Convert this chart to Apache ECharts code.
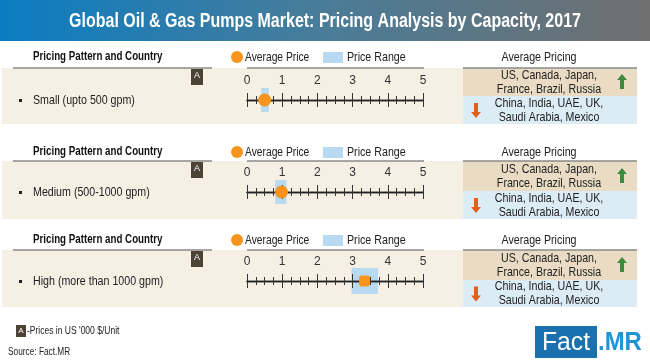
<!DOCTYPE html>
<html><head><meta charset="utf-8">
<script src="https://cdn.jsdelivr.net/npm/echarts@6/dist/echarts.min.js"></script>
<style>html,body{margin:0;padding:0;background:#fff}#c{width:650px;height:361px}</style>
</head><body><div id="c"></div><script>
// ---- data ----
const title = 'Global Oil & Gas Pumps Market: Pricing Analysis by Capacity, 2017';
const categories = ['Small (upto 500 gpm)', 'Medium (500-1000 gpm)', 'High (more than 1000 gpm)'];
const avgPrice = [0.5, 0.98, 3.34];
const rangeLow = [0.4, 0.8, 2.97];
const rangeHigh = [0.62, 1.12, 3.72];
const tickLabels = ['0', '1', '2', '3', '4', '5'];
const higherPricing = ['US, Canada, Japan,', 'France, Brazil, Russia'];
const lowerPricing = ['China, India, UAE, UK,', 'Saudi Arabia, Mexico'];
const headerLeft = 'Pricing Pattern and Country';
const headerRight = 'Average Pricing';
const legendNames = ['Average Price', 'Price Range'];
const footnote = '-Prices in US \'000 $/Unit';
const source = 'Source: Fact.MR';

// ---- layout ----
const FN = "'Liberation Sans',Arial,sans-serif";
const NARROW = 0.82;
const AX_L = 247, AX_W = 176;
const sections = [
  {header: 57, top: 68, bot: 124, split: 96, axis: 100, rh: 24},
  {header: 152, top: 161, bot: 219, split: 191, axis: 192, rh: 24},
  {header: 240, top: 250, bot: 307, split: 280, axis: 281, rh: 26}
];
const ORANGE = '#f7941d', RANGE = '#b7d9f2';

const grid = [], xAxis = [], yAxis = [], series = [], g = [];

function txt(text, x, y, font, o) {
  o = o || {};
  return {type: 'text', z: 10, x: x, y: y, scaleX: o.sx || NARROW,
    style: {text: text, x: 0, y: 0, align: o.align || 'left', verticalAlign: 'middle',
      lineHeight: o.lh, fill: o.fill || '#222', font: font}};
}

g.push({type: 'rect', z: -10, shape: {x: 0, y: 0, width: 650, height: 41},
  style: {fill: new echarts.graphic.LinearGradient(0, 0, 1, 0, [
    {offset: 0, color: '#0a7dc2'}, {offset: 0.5, color: '#4a7c98'}, {offset: 1, color: '#6f6f6f'}])}});
g.push(txt(title, 325, 21, 'bold 20px ' + FN, {align: 'center', fill: '#fff', sx: 0.8}));

sections.forEach((s, i) => {
  g.push({type: 'rect', z: -10, shape: {x: 2, y: s.top, width: 462, height: s.bot - s.top}, style: {fill: '#f6efe4'}});
  g.push({type: 'rect', z: -9, shape: {x: 463, y: s.top, width: 174, height: s.split - s.top}, style: {fill: '#eadcc4'}});
  g.push({type: 'rect', z: -9, shape: {x: 463, y: s.split, width: 174, height: s.bot - s.split}, style: {fill: '#dcecf5'}});
  [[13, 212], [247, 424], [463, 637]].forEach(p => {
    g.push({type: 'line', z: -8, shape: {x1: p[0], y1: s.top, x2: p[1], y2: s.top}, style: {stroke: '#8a8a8a', lineWidth: 1.5}});
  });
  g.push(txt(headerLeft, 33, s.header, 'bold 12.5px ' + FN, {fill: '#111', sx: 0.78}));
  g.push(txt(headerRight, 539, s.header, '13px ' + FN, {align: 'center'}));
  g.push({type: 'circle', z: 10, shape: {cx: 237, cy: s.header, r: 6}, style: {fill: ORANGE}});
  g.push(txt(legendNames[0], 245, s.header, '13px ' + FN, {sx: 0.79}));
  g.push({type: 'rect', z: 10, shape: {x: 323, y: s.header - 5, width: 20, height: 11}, style: {fill: RANGE}});
  g.push(txt(legendNames[1], 347, s.header, '13px ' + FN));
  g.push({type: 'rect', z: 10, shape: {x: 191, y: s.top + 1, width: 12, height: 16}, style: {fill: '#4a4336'}});
  g.push(txt('A', 197, s.top + 8, '9px ' + FN, {align: 'center', fill: '#fff', sx: 1}));
  g.push({type: 'rect', z: 10, shape: {x: 19, y: s.axis - 1, width: 3, height: 3}, style: {fill: '#222'}});
  g.push(txt(categories[i], 33, s.axis, '13px ' + FN));
  const tH = (s.top + s.split) / 2, bH = (s.split + s.bot) / 2;
  g.push(txt(higherPricing.join('\n'), 549, tH, '13px ' + FN, {align: 'center', lh: 14}));
  g.push(txt(lowerPricing.join('\n'), 549, bH, '13px ' + FN, {align: 'center', lh: 14}));
  g.push({type: 'polygon', z: 10, shape: {points: [[622, tH - 8], [627, tH - 2], [624, tH - 2], [624, tH + 7], [620, tH + 7], [620, tH - 2], [617, tH - 2]]}, style: {fill: '#3d8b3d'}});
  g.push({type: 'polygon', z: 10, shape: {points: [[476, bH + 8], [481, bH + 2], [478, bH + 2], [478, bH - 7], [474, bH - 7], [474, bH + 2], [471, bH + 2]]}, style: {fill: '#e0601c'}});

  grid.push({left: AX_L, width: AX_W, top: s.axis - s.rh / 2, height: s.rh});
  grid.push({left: AX_L, width: AX_W, top: s.axis, height: 0});
  const maxV = tickLabels.length - 1;
  xAxis.push({gridIndex: 2 * i, type: 'value', min: 0, max: maxV, show: false});
  const common = {gridIndex: 2 * i + 1, type: 'value', min: 0, max: maxV, interval: 1, z: 3,
    splitLine: {show: false},
    axisLine: {show: true, lineStyle: {color: '#222', width: 1.3}},
    axisTick: {show: true, length: 7, lineStyle: {color: '#333', width: 1}},
    minorTick: {show: true, splitNumber: 4, length: 4, lineStyle: {color: '#333', width: 1}},
    minorSplitLine: {show: false}};
  xAxis.push(Object.assign({}, common, {position: 'top',
    axisLabel: {show: true, margin: 13, color: '#333', fontSize: 12, fontFamily: FN, formatter: v => tickLabels[v]}}));
  xAxis.push(Object.assign({}, common, {position: 'bottom', axisLabel: {show: false}}));
  yAxis.push({gridIndex: 2 * i, type: 'category', data: ['r'], show: false});
  yAxis.push({gridIndex: 2 * i + 1, type: 'value', show: false});

  series.push({type: 'bar', xAxisIndex: 3 * i, yAxisIndex: 2 * i, stack: 'r' + i, barWidth: s.rh, z: 1,
    silent: true, itemStyle: {color: 'rgba(0,0,0,0)'}, data: [rangeLow[i]]});
  series.push({type: 'bar', xAxisIndex: 3 * i, yAxisIndex: 2 * i, stack: 'r' + i, barWidth: s.rh, z: 1,
    silent: true, itemStyle: {color: RANGE}, data: [rangeHigh[i] - rangeLow[i]]});
  series.push({type: 'scatter', xAxisIndex: 3 * i, yAxisIndex: 2 * i, z: 5, silent: true,
    symbol: i === 2 ? 'roundRect' : 'circle', symbolSize: i === 2 ? 11 : 13,
    itemStyle: {color: ORANGE, opacity: 1}, data: [[avgPrice[i], 'r']]});
});

// footer
g.push({type: 'rect', z: 10, shape: {x: 16, y: 325, width: 10, height: 12}, style: {fill: '#4a4336'}});
g.push(txt('A', 21, 331, '8px ' + FN, {align: 'center', fill: '#fff', sx: 1}));
g.push(txt(footnote, 27, 331, '11.5px ' + FN, {sx: 0.74}));
g.push(txt(source, 8, 352, '10px ' + FN, {sx: 0.83}));
// logo
g.push({type: 'rect', z: 10, shape: {x: 535, y: 326, width: 62, height: 32}, style: {fill: '#1b70ae'}});
g.push(txt('Fact', 566, 343, '26px ' + FN, {align: 'center', fill: '#fff', sx: 0.95}));
g.push(txt('.MR', 598, 343, 'bold 26px ' + FN, {fill: '#1f95d6', sx: 0.92}));

const chart = echarts.init(document.getElementById('c'), null, {renderer: 'canvas'});
chart.setOption({animation: false, backgroundColor: '#fff', grid, xAxis, yAxis, series, graphic: {elements: g}});
</script></body></html>
